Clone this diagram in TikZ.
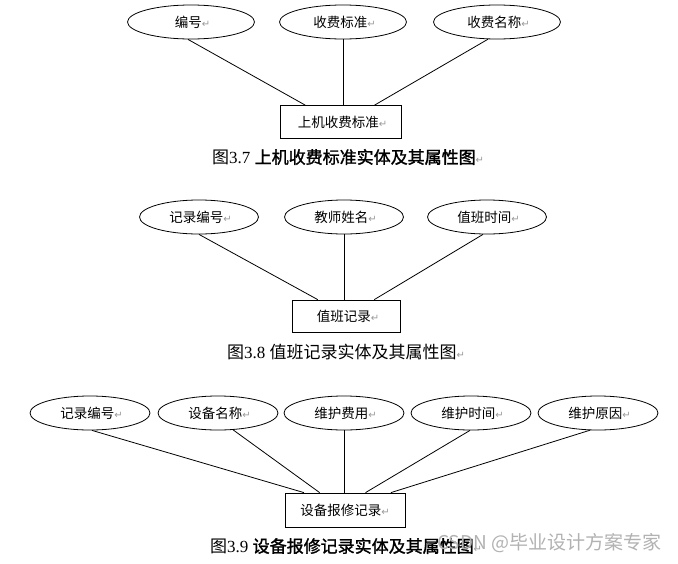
\documentclass[tikz,border=0pt]{standalone}
\usepackage{fontspec}
\setmainfont{Liberation Serif}
\newfontfamily\cjk{Noto Sans CJK SC}
\newfontfamily\cjkb[FakeBold=1.5]{Noto Sans CJK SC}
\newfontfamily\symf{DejaVu Sans}
\usetikzlibrary{shapes.geometric,calc}
\newcommand\retmark{{\color{black!40}\symf\fontsize{10}{10}\selectfont ↵}}
\tikzset{
  attr/.style={draw, ellipse, line width=0.8pt, minimum width=120pt, minimum height=34pt, inner sep=0pt,
    font=\cjk\fontsize{13.5}{14}\selectfont},
  ent/.style={draw, rectangle, line width=0.8pt, minimum width=121pt, minimum height=33pt, inner sep=0pt,
    font=\cjk\fontsize{13.5}{14}\selectfont},
  link/.style={line width=0.8pt},
  captext/.style={anchor=west, inner sep=0pt, font=\fontsize{17}{18}\selectfont},
}
\begin{document}
\begin{tikzpicture}[x=1pt,y=-1pt]
\useasboundingbox[fill=white] (0,0) rectangle (678,563);
% Figure 3.7
\node[attr, minimum width=127pt] (e1) at (191,22) {\hspace*{3pt}编号\retmark};
\node[attr, minimum width=127pt] (e2) at (343,22) {\hspace*{3pt}收费标准\retmark};
\node[attr, minimum width=127pt] (e3) at (497,22) {\hspace*{3pt}收费名称\retmark};
\node[ent] (b1) at (340.5,122) {\hspace*{4pt}上机收费标准\retmark};
\draw[link] ($(e1.south)+(-3,0)$) -- ($(b1.north west)!0.21!(b1.north east)$);
\draw[link] (e2.south) -- (e2.south |- b1.north);
\draw[link] ($(e3.south)+(-9,-0.2)$) -- ($(b1.north west)!0.78!(b1.north east)$);
\node[captext] (c1) at (212,157) {{\cjk 图}3.7 {\cjkb 上机收费标准实体及其属性图}\retmark};
% Figure 3.8
\node[attr, minimum width=119pt] (e4) at (199,217) {\hspace*{3pt}记录编号\retmark};
\node[attr, minimum width=119pt] (e5) at (344,217) {\hspace*{3pt}教师姓名\retmark};
\node[attr, minimum width=119pt] (e6) at (487,217) {\hspace*{3pt}值班时间\retmark};
\node[ent, minimum width=108pt, minimum height=32pt] (b2) at (346,316) {\hspace*{4pt}值班记录\retmark};
\draw[link] (e4.south) -- ($(b2.north west)!0.24!(b2.north east)$);
\draw[link] (e5.south) -- (e5.south |- b2.north);
\draw[link] ($(e6.south)+(-4,0)$) -- ($(b2.north west)!0.76!(b2.north east)$);
\node[captext] (c2) at (227,352) {{\cjk 图}3.8 {\cjk 值班记录实体及其属性图}\retmark};
% Figure 3.9
\node[attr] (e7) at (90,413) {\hspace*{3pt}记录编号\retmark};
\node[attr] (e8) at (218,413) {\hspace*{3pt}设备名称\retmark};
\node[attr] (e9) at (344,413) {\hspace*{3pt}维护费用\retmark};
\node[attr] (e10) at (471,413) {\hspace*{3pt}维护时间\retmark};
\node[attr] (e11) at (598,413) {\hspace*{3pt}维护原因\retmark};
\node[ent, minimum width=120pt, minimum height=34pt] (b3) at (345,510) {设备报修记录\retmark};
\draw[link] ($(e7.south)+(2,0)$) -- ($(b3.north west)!0.16!(b3.north east)$);
\draw[link] ($(e8.south)+(15,-0.6)$) -- ($(b3.north west)!0.29!(b3.north east)$);
\draw[link] (e9.south) -- (e9.south |- b3.north);
\draw[link] ($(e10.south)+(-1,0)$) -- ($(b3.north west)!0.67!(b3.north east)$);
\draw[link] ($(e11.south)+(-8,-0.2)$) -- ($(b3.north west)!0.88!(b3.north east)$);
\node[captext] (c3) at (210,546) {{\cjk 图}3.9 {\cjkb 设备报修记录实体及其属性图}\retmark};
\node[anchor=west, inner sep=0pt, text=black!30, font=\cjk\fontsize{19}{20}\selectfont] (wm) at (437,543) {CSDN @毕业设计方案专家};
\end{tikzpicture}
\end{document}
